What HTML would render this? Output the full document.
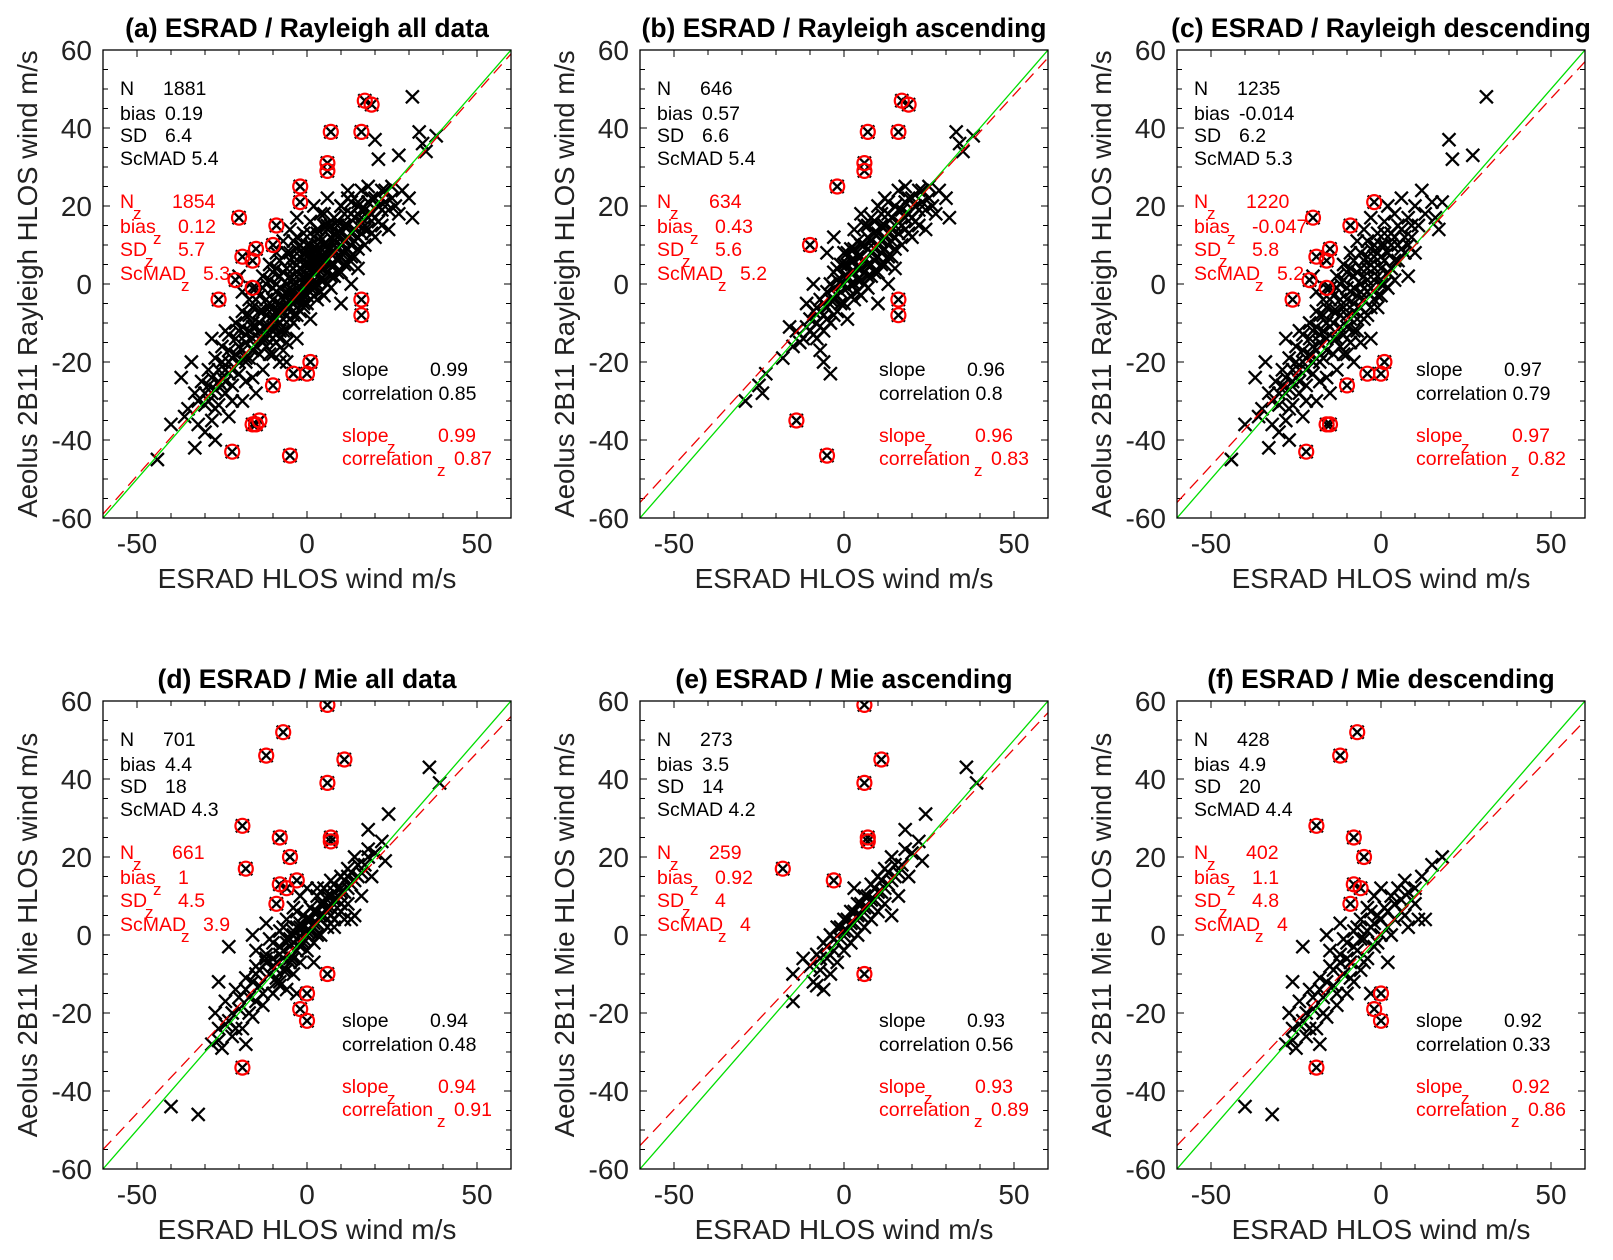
<!DOCTYPE html>
<html><head><meta charset="utf-8"><style>
html,body{margin:0;padding:0;background:#fff;}
svg{display:block;font-family:"Liberation Sans",Arial,sans-serif;}
</style></head><body>
<svg id="fig" width="1613" height="1260" viewBox="0 0 1613 1260"></svg>
<script>
// ---------- data (m/s) ----------
const xTicks = [-50, 0, 50];
const yTicks = [-60, -40, -20, 0, 20, 40, 60];

const rayAscPts = [[-12,-14],[-10,-9],[-9,-13],[-8,-6],[-8,-10],[-7,-4],[-6,-8],[-6,-12],[-5,-2],[-5,-6],[-4,-10],[-4,0],[-3,-4],[-3,3],[-2,-7],[-2,1],[-1,-2],[-1,5],[0,-5],[0,2],[0,8],[1,-1],[1,5],[2,-3],[2,3],[2,9],[3,0],[3,6],[4,-2],[4,4],[4,11],[5,1],[5,7],[6,3],[6,10],[6,15],[7,-1],[7,5],[7,12],[8,2],[8,8],[8,17],[9,6],[9,13],[10,3],[10,10],[10,20],[11,8],[11,15],[12,5],[12,12],[12,22],[13,10],[13,18],[14,7],[14,14],[15,12],[15,20],[16,16],[16,24],[17,10],[17,19],[18,14],[18,25],[19,18],[20,22],[20,12],[21,16],[22,24],[22,19],[23,21],[24,14],[25,25],[26,20],[28,24],[30,22],[31,17],[33,39],[34,36],[35,34],[38,38],[-29,-30],[-25,-26],[-23,-23],[-24,-28],[-16,-11],[-14,-12],[-6,-20],[-4,-23],[-18,-19],[-15,-16],[-11,-5],[-9,0],[-5,8],[-3,12],[3,14],[5,18],[10,-5],[13,0],[15,4],[1,-9],[-7,-17],
[-10,-12],[-9,-7],[-7,-7],[-6,-5],[-5,-9],[-4,-4],[-3,-1],[-3,-8],[-2,-3],[-2,4],[-1,0],[-1,-5],[0,0],[0,5],[1,2],[1,8],[2,0],[2,6],[3,3],[3,-4],[3,9],[4,1],[4,7],[5,4],[5,10],[5,-3],[6,6],[6,0],[7,2],[7,9],[7,15],[8,5],[8,11],[9,3],[9,9],[9,16],[10,7],[10,13],[11,5],[11,11],[11,18],[12,9],[12,15],[13,7],[13,13],[13,21],[14,11],[14,17],[15,9],[15,15],[16,13],[16,19],[17,15],[18,17],[18,21],[19,13],[19,22],[20,17],[21,20],[22,15],[23,24],[24,19],[25,22],[27,18],[-8,-14],[-11,-11],[-13,-15]];
const rayAscOut = [[17,47],[19,46],[7,39],[16,39],[6,31],[6,29],[-2,25],[-10,10],[16,-4],[16,-8],[-14,-35],[-5,-44]];

const rayDesPts = [[-35,-32],[-33,-28],[-32,-36],[-31,-25],[-30,-31],[-29,-22],[-28,-28],[-28,-35],[-27,-19],[-26,-25],[-26,-31],[-25,-16],[-24,-22],[-24,-28],[-23,-13],[-22,-19],[-22,-26],[-21,-10],[-20,-16],[-20,-23],[-19,-7],[-18,-13],[-18,-20],[-17,-4],[-16,-10],[-16,-17],[-15,-1],[-14,-7],[-14,-14],[-13,-22],[-13,2],[-12,-4],[-12,-11],[-11,-18],[-11,5],[-10,-1],[-10,-8],[-9,-15],[-9,8],[-8,2],[-8,-5],[-7,-12],[-7,11],[-6,4],[-6,-2],[-5,-9],[-5,14],[-4,7],[-4,1],[-3,-6],[-3,17],[-2,10],[-2,4],[-1,-3],[-1,13],[0,7],[0,0],[1,16],[1,10],[2,3],[2,20],[3,13],[4,6],[4,18],[5,10],[6,22],[6,14],[7,8],[8,17],[9,12],[10,20],[11,15],[12,24],[13,18],[15,21],[16,17],[17,14],[18,21],[31,48],[20,37],[21,32],[27,33],[-44,-45],[-40,-36],[-36,-34],[-33,-42],[-30,-38],[-27,-40],[-37,-24],[-34,-20],[-23,-34],[-19,-30],[-8,-20],[-3,-14],[-15,-28],[-28,-14],[-20,2],[8,2],[10,8],
[-30,-28],[-29,-26],[-28,-24],[-27,-27],[-26,-22],[-25,-24],[-25,-20],[-24,-25],[-23,-20],[-23,-17],[-22,-22],[-21,-18],[-21,-14],[-20,-20],[-20,-12],[-19,-17],[-19,-11],[-18,-15],[-18,-8],[-17,-19],[-17,-12],[-17,-8],[-16,-14],[-16,-6],[-15,-11],[-15,-4],[-14,-18],[-14,-10],[-14,-3],[-13,-14],[-13,-7],[-13,-1],[-12,-16],[-12,-8],[-12,0],[-11,-13],[-11,-6],[-11,1],[-10,-11],[-10,-4],[-10,3],[-9,-9],[-9,-2],[-9,4],[-8,-12],[-8,-7],[-8,-1],[-8,6],[-7,-9],[-7,-3],[-7,3],[-6,-6],[-6,0],[-6,8],[-5,-4],[-5,2],[-5,6],[-4,-8],[-4,-2],[-4,4],[-4,11],[-3,-1],[-3,5],[-3,9],[-2,-4],[-2,1],[-2,7],[-1,-6],[-1,2],[-1,8],[0,-3],[0,4],[0,10],[1,0],[1,6],[1,13],[2,-1],[2,8],[3,4],[3,10],[4,1],[4,12],[5,6],[5,15],[6,9],[7,12],[8,10],[9,15],[-32,-30],[-27,-32],[-22,-30],[-18,-25],[-16,-24],[-24,-12],[-19,-2],[-10,-18],[-6,-15]];
const rayDesOut = [[-20,17],[-2,21],[-19,7],[-15,9],[-16,6],[-9,15],[-21,1],[-16,-1],[-26,-4],[-22,-43],[-16,-36],[-15,-36],[-10,-26],[-4,-23],[0,-23],[1,-20]];

const mieAscPts = [[-10,-8],[-9,-12],[-8,-5],[-7,-9],[-6,-2],[-5,-6],[-4,0],[-4,-10],[-3,-4],[-2,2],[-2,-7],[-1,-1],[0,4],[0,-4],[1,1],[2,6],[2,-2],[3,3],[4,8],[4,0],[5,5],[6,10],[6,2],[7,7],[8,13],[8,4],[9,9],[10,15],[10,6],[11,11],[12,17],[12,8],[13,13],[14,20],[15,15],[16,10],[17,18],[18,22],[19,15],[20,21],[22,24],[23,19],[24,31],[18,27],[-15,-17],[-15,-10],[-8,-13],[36,43],[39,39],[-12,-6],[3,12],[14,5],[-6,-14],
[-7,-6],[-5,-3],[-3,-1],[-1,2],[1,4],[3,6],[5,8],[7,10],[9,12],[11,14],[13,16],[15,18],[0,1],[2,3],[4,5],[6,7],[8,9],[10,11],[-2,-2],[12,12],[14,14],[16,16]];
const mieAscOut = [[6,59],[11,45],[6,39],[7,25],[7,24],[-18,17],[-3,14],[6,-10]];

const mieDesPts = [[-28,-28],[-27,-20],[-26,-24],[-25,-29],[-24,-17],[-23,-22],[-22,-26],[-21,-14],[-20,-19],[-19,-24],[-18,-11],[-17,-16],[-16,-21],[-15,-8],[-14,-13],[-13,-18],[-12,-5],[-11,-10],[-10,-15],[-10,-2],[-9,-7],[-8,-12],[-8,1],[-7,-4],[-6,-9],[-6,4],[-5,-1],[-4,-6],[-4,7],[-3,2],[-2,-3],[-2,10],[-1,5],[0,0],[0,12],[1,7],[2,2],[3,10],[4,4],[5,12],[6,6],[7,14],[8,2],[9,9],[10,12],[11,4],[12,15],[13,4],[15,18],[18,20],[-40,-44],[-32,-46],[-23,-3],[-16,0],[-12,3],[-3,-15],[2,-7],[-26,-12],[-18,-28],
[-26,-27],[-24,-23],[-22,-20],[-20,-16],[-18,-14],[-16,-12],[-14,-9],[-12,-7],[-10,-6],[-8,-3],[-6,-1],[-4,1],[-2,3],[0,4],[2,6],[4,8],[6,9],[8,11],[-21,-24],[-17,-20],[-13,-15],[-9,-11],[-5,-7],[-1,-2],[3,0],[7,5],[10,8],[-15,-4],[-11,-1],[-7,2],[-3,6]];
const mieDesOut = [[-7,52],[-12,46],[-19,28],[-8,25],[-5,20],[-8,13],[-6,12],[-9,8],[0,-15],[-2,-19],[0,-22],[-19,-34]];

// fit lines: y at x=-60 and x=60
const fitA = [-59, 59], fitB = [-56, 58], fitC = [-56, 57];
const fitD = [-55, 56], fitE = [-54, 57], fitF = [-54, 55];

const titles = ["(a) ESRAD / Rayleigh all data","(b) ESRAD / Rayleigh ascending","(c) ESRAD / Rayleigh descending","(d) ESRAD / Mie all data","(e) ESRAD / Mie ascending","(f) ESRAD / Mie descending"];
const statsN = ["1881","646","1235","701","273","428"];
const statsBias = ["0.19","0.57","-0.014","4.4","3.5","4.9"];
const statsSD = ["6.4","6.6","6.2","18","14","20"];
const statsMAD = ["5.4","5.4","5.3","4.3","4.2","4.4"];
const statsNz = ["1854","634","1220","661","259","402"];
const statsBiasz = ["0.12","0.43","-0.047","1","0.92","1.1"];
const statsSDz = ["5.7","5.6","5.8","4.5","4","4.8"];
const statsMADz = ["5.3","5.2","5.2","3.9","4","4"];
const statsSlope = ["0.99","0.96","0.97","0.94","0.93","0.92"];
const statsCorr = ["0.85","0.8","0.79","0.48","0.56","0.33"];
const statsSlopez = ["0.99","0.96","0.97","0.94","0.93","0.92"];
const statsCorrz = ["0.87","0.83","0.82","0.91","0.89","0.86"];

// ---------- drawing ----------
const NS = "http://www.w3.org/2000/svg";
const svg = document.getElementById('fig');
function mk(tag, attrs, parent){const e=document.createElementNS(NS,tag);for(const k in attrs)e.setAttribute(k,attrs[k]);(parent||svg).appendChild(e);return e;}

const lefts=[103,640,1177], tops=[50,701], W=408, H=468;
const panels=[
 {pts:rayAscPts.concat(rayDesPts), out:rayAscOut.concat(rayDesOut), fit:fitA, ylab:"Aeolus 2B11 Rayleigh HLOS wind m/s"},
 {pts:rayAscPts, out:rayAscOut, fit:fitB, ylab:"Aeolus 2B11 Rayleigh HLOS wind m/s"},
 {pts:rayDesPts, out:rayDesOut, fit:fitC, ylab:"Aeolus 2B11 Rayleigh HLOS wind m/s"},
 {pts:mieAscPts.concat(mieDesPts), out:mieAscOut.concat(mieDesOut), fit:fitD, ylab:"Aeolus 2B11 Mie HLOS wind m/s"},
 {pts:mieAscPts, out:mieAscOut, fit:fitE, ylab:"Aeolus 2B11 Mie HLOS wind m/s"},
 {pts:mieDesPts, out:mieDesOut, fit:fitF, ylab:"Aeolus 2B11 Mie HLOS wind m/s"}];

panels.forEach((p,i)=>{
  const L=lefts[i%3], T=tops[Math.floor(i/3)];
  const sx=v=>L+(v+60)/120*W, sy=v=>T+H-(v+60)/120*H;
  const g=mk('g',{});
  
  
  const clipId='clip'+i;
  const cp=mk('clipPath',{id:clipId},g); mk('rect',{x:L,y:T,width:W,height:H},cp);
  const t=mk('text',{x:L+W/2,y:T-13,'text-anchor':'middle','font-size':26.5,'font-weight':'bold',fill:'#000'},g);
  t.textContent=titles[i];
  
  
  for(let v=-60;v<=60;v+=10){const x=sx(v);const len=(v%50===0)?7:5;
    mk('line',{x1:x,y1:T+H,x2:x,y2:T+H-len,stroke:'#000','stroke-width':1},g);
    mk('line',{x1:x,y1:T,x2:x,y2:T+len,stroke:'#000','stroke-width':1},g);}
  for(let v=-60;v<=60;v+=5){const y=sy(v);const len=(v%20===0)?7:5;
    mk('line',{x1:L,y1:y,x2:L+len,y2:y,stroke:'#000','stroke-width':1},g);
    mk('line',{x1:L+W,y1:y,x2:L+W-len,y2:y,stroke:'#000','stroke-width':1},g);}
  xTicks.forEach(v=>{const e=mk('text',{x:sx(v),y:T+H+35,'text-anchor':'middle','font-size':28,fill:'#222'},g);e.textContent=v;
    
    });
  yTicks.forEach(v=>{const e=mk('text',{x:L-11,y:sy(v)+10,'text-anchor':'end','font-size':28,fill:'#222'},g);e.textContent=v;
    
    });
  const xl=mk('text',{x:L+W/2,y:T+H+70,'text-anchor':'middle','font-size':28,fill:'#222'},g);xl.textContent="ESRAD HLOS wind m/s";
  
  
  const yl=mk('text',{x:0,y:0,'text-anchor':'middle','font-size':27.5,fill:'#222',transform:`translate(${L-66},${T+H/2}) rotate(-90)`},g);yl.textContent=p.ylab;
  
  
  const dg=mk('g',{'clip-path':`url(#${clipId})`},g);
  const s=6.5;
  p.pts.concat(p.out).forEach(([a,b])=>{const x=sx(a),y=sy(b);
    const m=mk('path',{d:`M${x-s} ${y-s}L${x+s} ${y+s}M${x-s} ${y+s}L${x+s} ${y-s}`,stroke:'#000','stroke-width':2.3,fill:'none'},dg);
    
    });
  p.out.forEach(([a,b])=>{const c=mk('circle',{cx:sx(a),cy:sy(b),r:7,stroke:'#f00','stroke-width':2.2,fill:'none'},dg);
    
    });
  const gl=mk('line',{x1:sx(-60),y1:sy(-60),x2:sx(60),y2:sy(60),stroke:'#0d0','stroke-width':1.3},dg);
  
  
  const rl=mk('line',{x1:sx(-60),y1:sy(p.fit[0]),x2:sx(60),y2:sy(p.fit[1]),stroke:'#e00','stroke-width':1.3,'stroke-dasharray':'12 7'},dg);
  
  
  mk('rect',{x:L,y:T,width:W,height:H,fill:'none',stroke:'#000','stroke-width':1.3},g);
  function txt(x,y,str,col,sub){const e=mk('text',{x:x,y:y,'font-size':19.5,fill:col},g);e.textContent=str;
    
    
    if(sub){const z=mk('text',{x:x+sub,y:y+11,'font-size':17,fill:col},g);z.textContent='z';}}
  const tx=L+17;
  txt(tx,T+45,'N','#000');txt(tx+43,T+45,statsN[i],'#000');
  txt(tx,T+70,'bias','#000');txt(tx+45,T+70,statsBias[i],'#000');
  txt(tx,T+92,'SD','#000');txt(tx+45,T+92,statsSD[i],'#000');
  txt(tx,T+115,'ScMAD '+statsMAD[i],'#000');
  txt(tx,T+158,'N','#f00',13);txt(tx+52,T+158,statsNz[i],'#f00');
  txt(tx,T+183,'bias','#f00',33);txt(tx+58,T+183,statsBiasz[i],'#f00');
  txt(tx,T+206,'SD','#f00',25);txt(tx+58,T+206,statsSDz[i],'#f00');
  txt(tx,T+230,'ScMAD','#f00',61);txt(tx+83,T+230,statsMADz[i],'#f00');
  const sxp=L+239;
  txt(sxp,T+326,'slope','#000');txt(sxp+88,T+326,statsSlope[i],'#000');
  txt(sxp,T+350,'correlation '+statsCorr[i],'#000');
  txt(sxp,T+392,'slope','#f00',45);txt(sxp+96,T+392,statsSlopez[i],'#f00');
  txt(sxp,T+415,'correlation','#f00',95);txt(sxp+112,T+415,statsCorrz[i],'#f00');
});
</script>
</body></html>
